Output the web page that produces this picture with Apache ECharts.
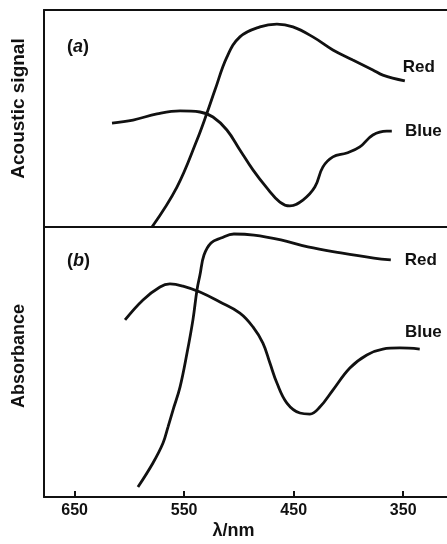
<!DOCTYPE html>
<html>
<head>
<meta charset="utf-8">
<script src="https://cdn.jsdelivr.net/npm/echarts@6/dist/echarts.min.js"></script>
<style>
html,body{margin:0;padding:0;background:#fff;}
#chart{width:447px;height:544px;}
</style>
</head>
<body>
<div id="chart"></div>
<script>
// Wavelength ticks (nm)
const tickValues = [650, 550, 450, 350];

// Panel (a): acoustic signal
const acousticRedWl   = [579.4, 556.6, 538.3, 529.2, 521.9, 511.0, 499.1, 480.8, 465.3, 450.7, 432.5, 414.2, 396.0, 377.7, 368.6, 348.5];
const acousticRedVal  = [0, 18.4, 40.1, 52.5, 63.1, 78.3, 87.6, 92.2, 93.5, 92.2, 87.6, 81.6, 77.0, 72.4, 70.0, 67.3];
const acousticBlueWl  = [615.9, 596.7, 574.8, 553.8, 535.6, 523.7, 511.0, 499.1, 487.2, 474.5, 462.6, 453.5, 441.6, 430.7, 423.4, 414.2, 401.5, 389.6, 377.7, 365.0, 360.4];
const acousticBlueVal = [47.9, 49.3, 52.1, 53.5, 53.0, 50.7, 44.7, 35.5, 26.3, 18.0, 11.5, 9.7, 12.4, 18.4, 27.6, 32.3, 34.1, 36.9, 42.4, 44.2, 44.2];

// Panel (b): absorbance
const absRedWl   = [592.2, 578.5, 569.3, 564.8, 560.2, 553.8, 547.4, 542.0, 538.3, 535.6, 531.9, 525.5, 516.4, 504.6, 486.3, 461.7, 437.0, 406.9, 376.8, 361.3];
const absRedVal  = [3.7, 12.6, 20.0, 25.9, 32.2, 40.7, 53.3, 65.6, 76.7, 82.2, 89.6, 94.1, 95.9, 97.4, 97.0, 95.2, 92.6, 90.4, 88.5, 87.8];
const absBlueWl  = [604.0, 587.6, 572.1, 563.0, 551.1, 535.6, 517.3, 499.1, 487.2, 478.1, 471.7, 465.3, 456.2, 444.3, 435.2, 426.1, 414.2, 398.7, 383.2, 368.6, 353.1, 334.9];
const absBlueVal = [65.6, 73.0, 77.8, 78.9, 78.1, 75.9, 72.2, 68.1, 63.0, 57.0, 49.6, 42.2, 34.8, 31.1, 30.7, 33.3, 39.6, 47.8, 52.6, 54.8, 55.2, 54.8];

const zip = (xs, ys) => xs.map((x, i) => [x, ys[i]]);

const FONT = '"Liberation Sans", Arial, Helvetica, sans-serif';
const INK = '#111';
const X_MIN = 310, X_MAX = 678;

const lineStyle = {color: INK, width: 2.8};
const endLbl = (name, offset) => ({
  show: true,
  formatter: name,
  color: INK,
  fontFamily: FONT,
  fontWeight: 'bold',
  fontSize: 17,
  offset: offset
});

const chart = echarts.init(document.getElementById('chart'), null, {renderer: 'canvas'});
chart.setOption({
  backgroundColor: '#fff',
  animation: false,
  title: [
    {text: '{p|(}{i|a}{p|)}', left: 62, top: 33,
      textStyle: {rich: {p: {fontFamily: FONT, fontWeight: 'bold', fontSize: 18, color: INK},
                         i: {fontFamily: FONT, fontWeight: 'bold', fontStyle: 'italic', fontSize: 18, color: INK}}}},
    {text: '{p|(}{i|b}{p|)}', left: 62, top: 247,
      textStyle: {rich: {p: {fontFamily: FONT, fontWeight: 'bold', fontSize: 18, color: INK},
                         i: {fontFamily: FONT, fontWeight: 'bold', fontStyle: 'italic', fontSize: 18, color: INK}}}}
  ],
  grid: [
    {left: 44, right: 0, top: 10, height: 217},
    {left: 44, right: 0, top: 227, height: 270}
  ],
  xAxis: [
    {gridIndex: 0, type: 'value', min: X_MIN, max: X_MAX, inverse: true, position: 'bottom',
      axisLine: {show: true, lineStyle: {color: INK, width: 2}}, axisTick: {show: false},
      axisLabel: {show: false}, splitLine: {show: false}},
    {gridIndex: 0, type: 'value', min: X_MIN, max: X_MAX, inverse: true, position: 'top',
      axisLine: {show: true, lineStyle: {color: INK, width: 2}}, axisTick: {show: false},
      axisLabel: {show: false}, splitLine: {show: false}},
    {gridIndex: 1, type: 'value', min: X_MIN, max: X_MAX, inverse: true, position: 'bottom',
      axisLine: {show: true, lineStyle: {color: INK, width: 2}},
      axisTick: {show: true, inside: true, length: 6, lineStyle: {color: INK, width: 2}, customValues: tickValues},
      axisLabel: {show: true, customValues: tickValues, color: INK, fontFamily: FONT, fontWeight: 'bold', fontSize: 16, margin: 6},
      splitLine: {show: false},
      name: 'λ/nm', nameLocation: 'middle', nameGap: 25,
      nameTextStyle: {color: INK, fontFamily: FONT, fontWeight: 'bold', fontSize: 18, padding: [0, 24, 0, 0]}}
  ],
  yAxis: [
    {gridIndex: 0, type: 'value', min: 0, max: 100,
      axisLine: {show: true, lineStyle: {color: INK, width: 2}}, axisTick: {show: false},
      axisLabel: {show: false}, splitLine: {show: false},
      name: 'Acoustic signal', nameLocation: 'middle', nameRotate: 90, nameGap: 16,
      nameTextStyle: {color: INK, fontFamily: FONT, fontWeight: 'bold', fontSize: 19, padding: [0, 0, 0, 20]}},
    {gridIndex: 1, type: 'value', min: 0, max: 100,
      axisLine: {show: true, lineStyle: {color: INK, width: 2}}, axisTick: {show: false},
      axisLabel: {show: false}, splitLine: {show: false},
      name: 'Absorbance', nameLocation: 'middle', nameRotate: 90, nameGap: 16,
      nameTextStyle: {color: INK, fontFamily: FONT, fontWeight: 'bold', fontSize: 18, padding: [0, 0, 0, 12]}}
  ],
  series: [
    {name: 'Red', type: 'line', xAxisIndex: 0, yAxisIndex: 0, data: zip(acousticRedWl, acousticRedVal),
      smooth: 0.4, showSymbol: false, lineStyle: lineStyle, endLabel: endLbl('Red', [38, -14])},
    {name: 'Blue', type: 'line', xAxisIndex: 0, yAxisIndex: 0, data: zip(acousticBlueWl, acousticBlueVal),
      smooth: 0.4, showSymbol: false, lineStyle: lineStyle, endLabel: endLbl('Blue', [58, 0])},
    {name: 'Red', type: 'line', xAxisIndex: 2, yAxisIndex: 1, data: zip(absRedWl, absRedVal),
      smooth: 0.4, showSymbol: false, lineStyle: lineStyle, endLabel: endLbl('Red', [54, 0])},
    {name: 'Blue', type: 'line', xAxisIndex: 2, yAxisIndex: 1, data: zip(absBlueWl, absBlueVal),
      smooth: 0.4, showSymbol: false, lineStyle: lineStyle, endLabel: endLbl('Blue', [30, -17])}
  ]
});
</script>
</body>
</html>
